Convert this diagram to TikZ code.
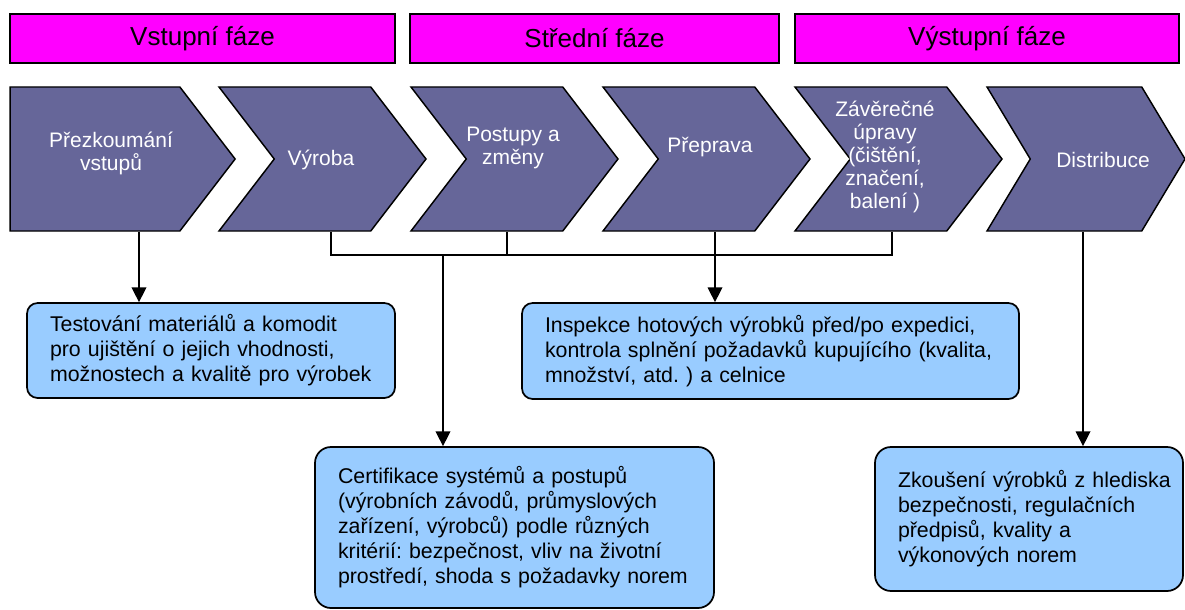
\documentclass[tikz,border=0pt]{standalone}
\usepackage{fontspec}
\setmainfont{Liberation Sans}
\frenchspacing
\usetikzlibrary{shapes.symbols, arrows.meta, positioning}

\definecolor{phasepink}{HTML}{FF00FF}
\definecolor{chevblue}{HTML}{666699}
\definecolor{boxblue}{HTML}{99CCFF}

\begin{document}
\begin{tikzpicture}[x=0.75pt, y=-0.75pt,
  phase/.style={draw, line width=1.5pt, fill=phasepink, minimum height=36.75pt, inner sep=0, font=\fontsize{19.5}{22}\selectfont},
  chev/.style={signal, signal to=east, signal from=west, signal pointer angle=105, draw, line width=1.1pt, fill=chevblue, minimum height=108pt, minimum width=155.25pt, inner sep=0},
  chevtext/.style={text=white, align=center, font=\fontsize{15.75}{17.25}\selectfont},
  testbox/.style={draw, line width=1.3pt, fill=boxblue, rounded corners=8pt, align=left, inner xsep=17.25pt, font=\fontsize{16}{18.75}\selectfont},
  link/.style={line width=1pt},
  arr/.style={link, -{Triangle[length=11pt, width=11pt]}}
]
  \useasboundingbox (0,0) rectangle (1185,610);

  \node[phase, minimum width=288.75pt] (ph1) at (202.5,38.5) {Vstupní fáze};
  \node[phase, minimum width=276.75pt] (ph2) at (594.5,38.5) {Střední fáze};
  \node[phase, minimum width=288pt] (ph3) at (987,38.5) {Výstupní fáze};

  \node[chev, signal from=nowhere, minimum width=168.75pt] (ch1) at (95,159) {};
  \node[chev] (ch2) at (322.5,159) {};
  \node[chev] (ch3) at (514.5,159) {};
  \node[chev] (ch4) at (706.5,159) {};
  \node[chev] (ch5) at (898.5,159) {};
  \node[chev, signal pointer angle=118, minimum width=148.5pt] (ch6) at (1086,159) {};

  \node[chevtext] (t1) at (111,153) {Přezkoumání\\vstupů};
  \node[chevtext] (t2) at (321,160) {Výroba};
  \node[chevtext] (t3) at (513,148) {Postupy a\\změny};
  \node[chevtext] (t4) at (710,147) {Přeprava};
  \node[chevtext] (t5) at (885,157) {Závěrečné\\úpravy\\(čištění,\\značení,\\balení )};
  \node[chevtext] (t6) at (1103,160) {Distribuce};

  \node[testbox, minimum width=276pt, minimum height=71.25pt, text width=241.5pt] (test) at (211,350.5) {Testování materiálů a komodit\\pro ujištění o jejich vhodnosti,\\možnostech a kvalitě pro výrobek};
  \node[testbox, minimum width=372.75pt, minimum height=72pt, text width=338.25pt] (insp) at (770.5,351) {Inspekce hotových výrobků před/po expedici,\\kontrola splnění požadavků kupujícího (kvalita,\\množství, atd. ) a celnice};
  \node[testbox, rounded corners=12pt, minimum width=299.25pt, minimum height=120.75pt, text width=264.75pt] (cert) at (514.5,527.5) {Certifikace systémů a postupů\\(výrobních závodů, průmyslových\\zařízení, výrobců) podle různých\\kritérií: bezpečnost, vliv na životní\\prostředí, shoda s požadavky norem};
  \node[testbox, rounded corners=12pt, minimum width=231pt, minimum height=108pt, text width=196.5pt] (zk) at (1029,519) {\mbox{Zkoušení výrobků z hlediska}\\bezpečnosti, regulačních\\předpisů, kvality a\\výkonových norem};

  \coordinate (drop1) at (139,255);
  \coordinate (busL) at (331,255);
  \coordinate (busC) at (443,255);
  \coordinate (bus3) at (507,255);
  \coordinate (drop4) at (715,255);
  \coordinate (busR) at (892,255);
  \coordinate (drop6) at (1083,255);

  \draw[arr] (ch1.south -| drop1) -- (test.north -| drop1);
  \draw[link] (ch2.south -| busL) -- (busL) -- (busR) -- (ch5.south -| busR);
  \draw[link] (ch3.south -| bus3) -- (bus3);
  \draw[arr] (busC) -- (cert.north -| busC);
  \draw[arr] (ch4.south -| drop4) -- (insp.north -| drop4);
  \draw[arr] (ch6.south -| drop6) -- (zk.north -| drop6);
\end{tikzpicture}
\end{document}
